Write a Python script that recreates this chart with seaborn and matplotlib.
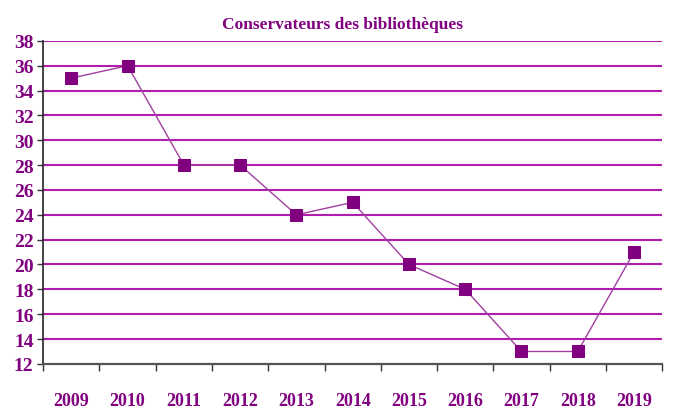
import matplotlib
matplotlib.use("Agg")
import matplotlib.pyplot as plt
import seaborn as sns
import pandas as pd
import numpy as np

years = ["2009", "2010", "2011", "2012", "2013", "2014",
         "2015", "2016", "2017", "2018", "2019"]
values = [35, 36, 28, 28, 24, 25, 20, 18, 13, 13, 21]
y_ticks = list(range(12, 40, 2))

text_color = "#800080"
grid_color = "#B01EB0"
line_color = "#A040A0"
marker_color = "#800080"

sns.set_theme(style="white")
plt.rcParams["font.family"] = ["Liberation Serif", "DejaVu Serif"]

df = pd.DataFrame({"pos": np.arange(len(years)), "value": values})

fig = plt.figure(figsize=(6.75, 4.10), dpi=100)
ax = fig.add_axes([0.064, 0.11, 0.917, 0.788])

for y in y_ticks[1:]:
    ax.axhline(y, color=grid_color, linewidth=1.5, zorder=1)

sns.lineplot(data=df, x="pos", y="value", ax=ax, color=line_color,
             linewidth=1.0, marker="s", markersize=8.5,
             markerfacecolor=marker_color, markeredgecolor=marker_color,
             zorder=3)

ax.set_xlim(-0.5, len(years) - 0.5)
ax.set_ylim(12, 38)
ax.set_yticks(y_ticks)
ax.set_yticklabels([str(v) for v in y_ticks])

# boundaries as major ticks, year labels as minor ticks
ax.set_xticks(np.arange(-0.5, len(years), 1.0))
ax.set_xticklabels([])
ax.set_xticks(np.arange(len(years)), minor=True)
ax.set_xticklabels(years, minor=True)
ax.tick_params(axis="x", which="major", direction="out", length=5,
               width=1, color="#333333", bottom=True)
ax.tick_params(axis="x", which="minor", length=0, pad=20,
               labelsize=13, labelcolor=text_color)
ax.tick_params(axis="y", direction="out", length=4, width=1,
               color="#333333", left=True, labelsize=14,
               labelcolor=text_color, pad=3)
for lbl in ax.get_xticklabels(minor=True) + ax.get_yticklabels():
    lbl.set_fontweight("bold")

ax.set_xlabel("")
ax.set_ylabel("")
sns.despine(ax=ax, top=True, right=True)
ax.spines["left"].set_color("#222222")
ax.spines["bottom"].set_color("#555555")
ax.spines["left"].set_linewidth(1.2)
ax.spines["bottom"].set_linewidth(1.6)

fig.text(0.508, 0.94, "Conservateurs des bibliothèques", ha="center",
         va="center", fontsize=12.5, fontweight="bold", color=text_color)

fig.savefig("out.png", dpi=100)
